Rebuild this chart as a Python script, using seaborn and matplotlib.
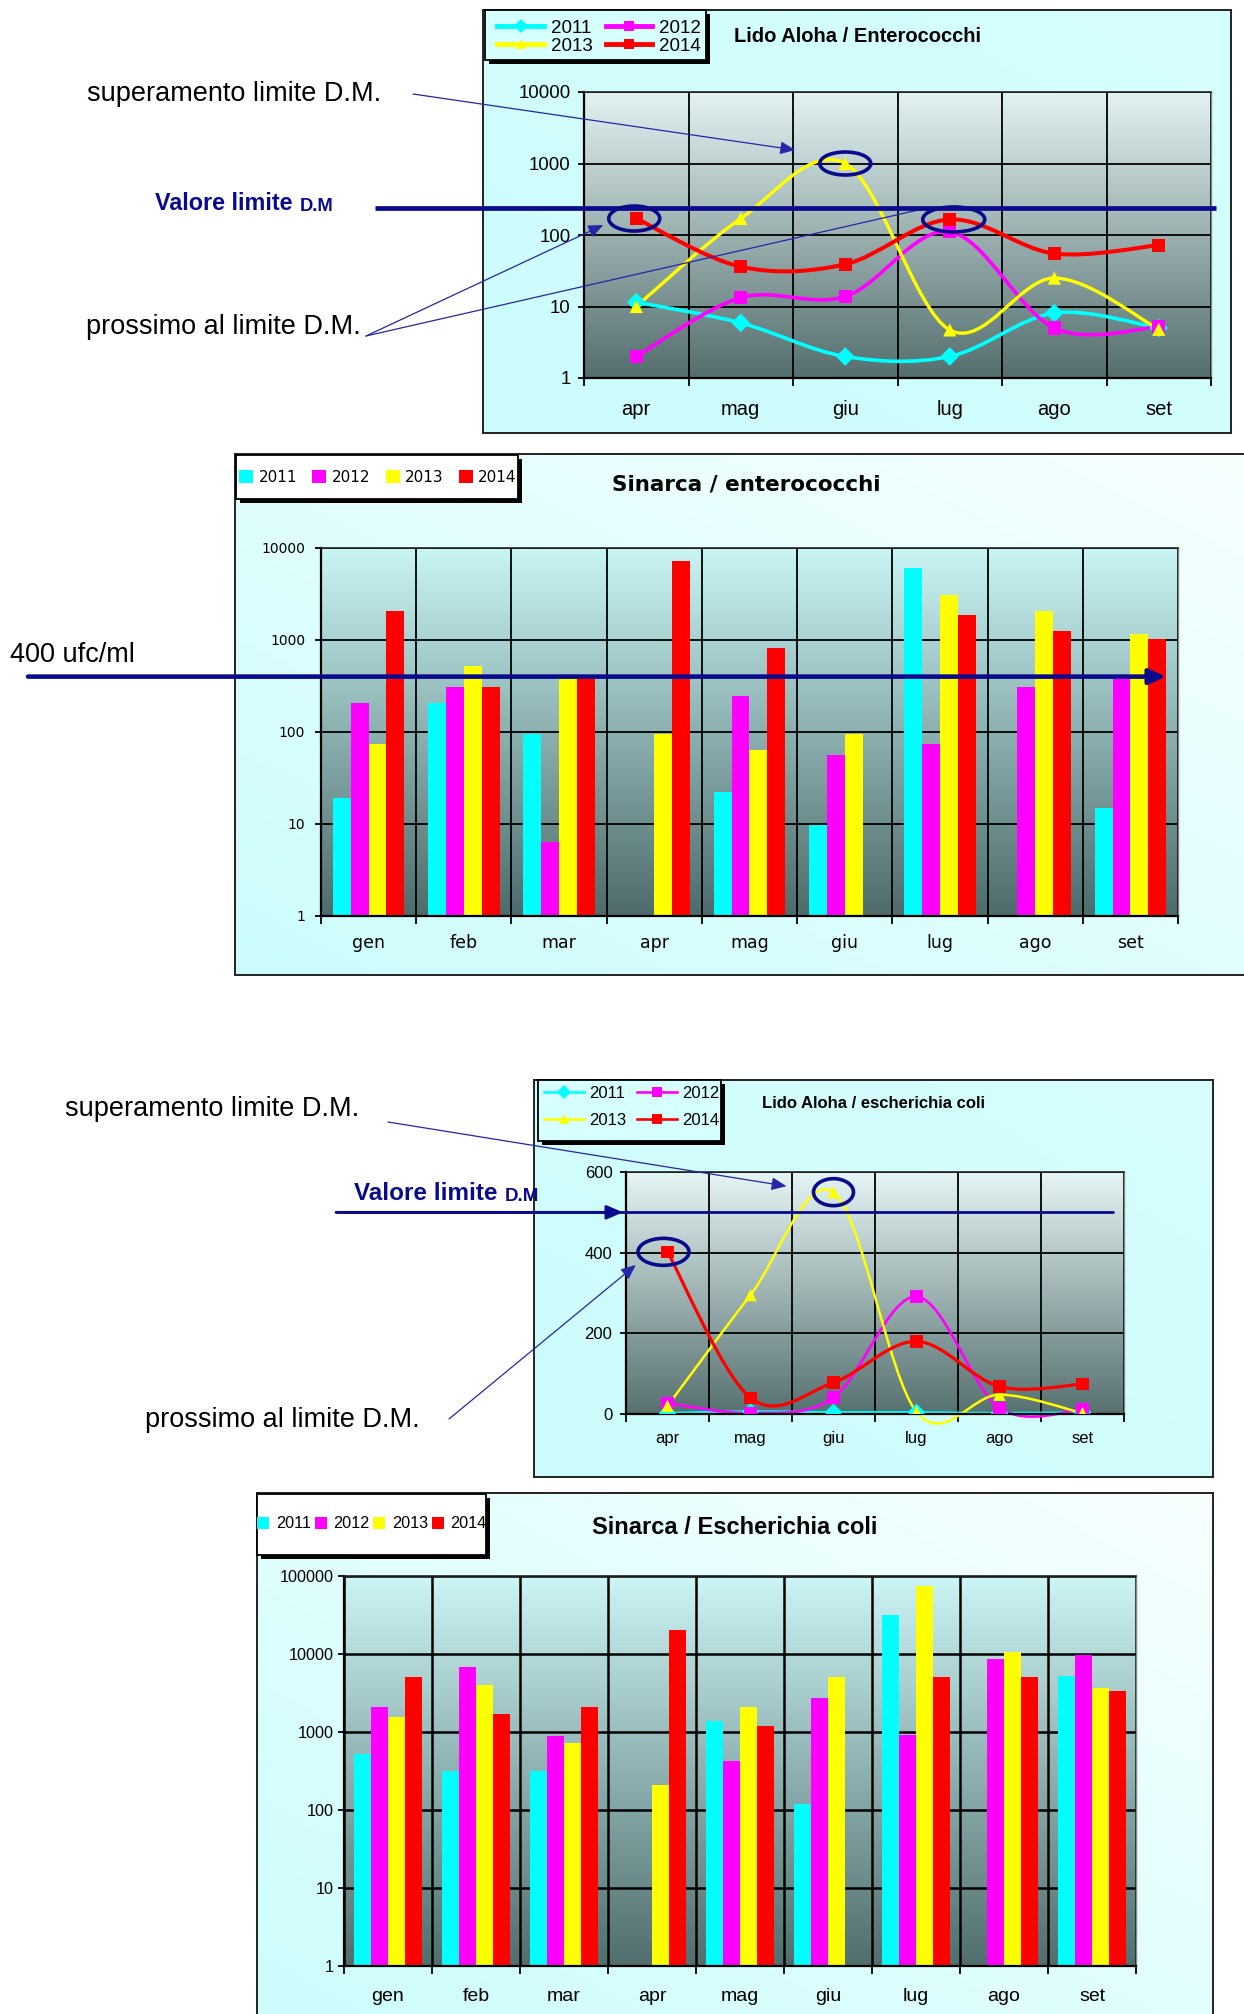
import numpy as np
import pandas as pd
import matplotlib
matplotlib.use("Agg")
import matplotlib.pyplot as plt
import matplotlib.transforms as mtransforms
from matplotlib.patches import Rectangle, Ellipse, FancyArrowPatch, PathPatch, Patch
from matplotlib.lines import Line2D
from matplotlib.path import Path
from matplotlib.ticker import NullLocator
from matplotlib import font_manager as fm
import seaborn as sns

# ---------------------------------------------------------------- data
MESI_LIDO = ["apr", "mag", "giu", "lug", "ago", "set"]
MESI_SINARCA = ["gen", "feb", "mar", "apr", "mag", "giu", "lug", "ago", "set"]
ANNI = ["2011", "2012", "2013", "2014"]

# Lido Aloha / Enterococchi
lido_ent_2011 = [11.5, 5.9, 2.0, 2.0, 8.1, 5.0]
lido_ent_2012 = [2.0, 13.3, 13.8, 111, 5.0, 5.2]
lido_ent_2013 = [10, 170, 1000, 4.7, 25, 4.8]
lido_ent_2014 = [170, 36, 39, 165, 55, 72]

# Sinarca / enterococchi
sin_ent_2011 = [19, 207, 95, np.nan, 22, 9.7, 6000, np.nan, 14.8]
sin_ent_2012 = [207, 311, 6.3, np.nan, 247, 56, 74, 311, 390]
sin_ent_2013 = [74, 517, 380, 95, 64, 95, 3100, 2070, 1150]
sin_ent_2014 = [2070, 305, 390, 7250, 823, np.nan, 1870, 1240, 1035]

# Lido Aloha / escherichia coli
lido_ec_2011 = [2, 6, 4, 4, 2, 4]
lido_ec_2012 = [27, 2.5, 41, 291, 15, 11]
lido_ec_2013 = [20, 295, 550, 5, 48, 2]
lido_ec_2014 = [402, 40, 78, 180, 68, 74]

# Sinarca / Escherichia coli
sin_ec_2011 = [526, 312, 312, np.nan, 1380, 120, 31500, np.nan, 5250]
sin_ec_2012 = [2090, 6840, 887, np.nan, 431, 2760, 903, 8570, 9830]
sin_ec_2013 = [1560, 3970, 728, 212, 2090, 5080, 74600, 10500, 3700]
sin_ec_2014 = [5080, 1720, 2090, 20600, 1180, np.nan, 5080, 5080, 3360]

LIMITE_ENT_LIDO = 240
LIMITE_ENT_SINARCA = 400
LIMITE_EC_LIDO = 500

ENT_TICKS = [1, 10, 100, 1000, 10000]
EC_SIN_TICKS = [1, 10, 100, 1000, 10000, 100000]
EC_LIDO_TICKS = [0, 200, 400, 600]

COLORI = ["#00FFFF", "#FF00FF", "#FFFF00", "#FF0000"]
MARKERS = ["D", "s", "^", "s"]
BLU = "#0a0a8c"
BLU_FRECCE = "#2626a6"

# ---------------------------------------------------------------- setup
plt.rcParams["font.family"] = ["Liberation Sans", "DejaVu Sans"]
_nomi = {f.name for f in fm.fontManager.ttflist}
NARROW = "Liberation Sans Narrow" in _nomi

W, H = 1244, 2014
fig = plt.figure(figsize=(W / 100, H / 100), dpi=100)
fig.patch.set_facecolor("white")


def box(x0, y0, x1, y1):
    return [x0 / W, 1 - y1 / H, (x1 - x0) / W, (y1 - y0) / H]


def fy(y):
    return 1 - y / H


def long_df(mesi, serie):
    rows = []
    for anno, valori in zip(ANNI, serie):
        for m, v in zip(mesi, valori):
            rows.append({"mese": m, "anno": anno, "valore": v})
    return pd.DataFrame(rows)


def panel(x0, y0, x1, y1, c_a, c_b, diagonal=False):
    a = fig.add_axes(box(x0, y0, x1, y1), zorder=0)
    n = 200
    u = np.linspace(0, 1, n)
    t = 0.5 * (u[None, :] + (1 - u[:, None]))
    if not diagonal:
        t = t * 0.4
    img = np.asarray(c_a)[None, None, :] * (1 - t[..., None]) + np.asarray(c_b)[None, None, :] * t[..., None]
    a.imshow(img, aspect="auto", extent=[0, 1, 0, 1], interpolation="bilinear")
    a.set_xlim(0, 1)
    a.set_ylim(0, 1)
    a.set_xticks([])
    a.set_yticks([])
    for s in a.spines.values():
        s.set_color("#222222")
        s.set_linewidth(1.4)
    return a


def plot_area(x0, y0, x1, y1, top, bottom):
    bg = fig.add_axes(box(x0, y0, x1, y1), zorder=0.5)
    t = np.linspace(0, 1, 256)[:, None, None]
    img = np.asarray(top)[None, None, :] * (1 - t) + np.asarray(bottom)[None, None, :] * t
    bg.imshow(img, aspect="auto", extent=[0, 1, 0, 1], interpolation="bilinear")
    bg.set_axis_off()
    ax = fig.add_axes(box(x0, y0, x1, y1), zorder=1)
    ax.set_facecolor("none")
    return ax


def legend_box(x0, y0, x1, y1, face):
    fig.add_artist(Rectangle(((x0 + 4) / W, fy(y1 + 4)), (x1 - x0) / W, (y1 - y0) / H,
                             transform=fig.transFigure, facecolor="black",
                             edgecolor="none", zorder=0.8))
    fig.add_artist(Rectangle((x0 / W, fy(y1)), (x1 - x0) / W, (y1 - y0) / H,
                             transform=fig.transFigure, facecolor=face,
                             edgecolor="black", lw=1.3, zorder=0.85))


def smooth_path(valori, log):
    """Smoothed (Catmull-Rom style) Bezier path through the points, in axis space."""
    x = np.arange(len(valori), dtype=float)
    y = np.asarray(valori, float)
    if log:
        y = np.log10(y)
    p = np.column_stack([x, y])
    n = len(p)
    verts = [p[0]]
    codes = [Path.MOVETO]
    for i in range(n - 1):
        prev = p[i - 1] if i > 0 else p[i]
        nxt = p[i + 2] if i + 2 < n else p[i + 1]
        verts += [p[i] + (p[i + 1] - prev) / 6, p[i + 1] - (nxt - p[i]) / 6, p[i + 1]]
        codes += [Path.CURVE4] * 3
    verts = np.array(verts)
    if log:
        verts[:, 1] = 10 ** verts[:, 1]
    return Path(verts, codes)


def line_panel(ax, mesi, serie, log, lws, s, clip=True):
    df = long_df(mesi, serie)
    sns.scatterplot(data=df, x="mese", y="valore", hue="anno", style="anno",
                    hue_order=ANNI, style_order=ANNI, palette=COLORI,
                    markers=MARKERS, s=s, linewidth=0, legend=False, ax=ax, zorder=4)
    for i, valori in enumerate(serie):
        ax.add_patch(PathPatch(smooth_path(valori, log), fill=False,
                               edgecolor=COLORI[i], lw=lws[i], zorder=2 + 0.1 * i,
                               capstyle="round", joinstyle="round", clip_on=clip))


def bar_panel(ax, mesi, serie, width):
    df = long_df(mesi, serie)
    sns.barplot(data=df, x="mese", y="valore", hue="anno", order=mesi,
                hue_order=ANNI, palette=COLORI, saturation=1, width=width,
                errorbar=None, linewidth=0, legend=False, ax=ax)


def style_axes(ax, mesi, yticks, ylabels, xsize, ysize, xpad, ypad,
               family=None, grid_lw=1.3):
    n = len(mesi)
    fam = {"fontfamily": family} if family else {}
    ax.set_xlim(-0.5, n - 0.5)
    ax.set_xticks(range(n))
    ax.set_xticklabels(mesi, fontsize=xsize, **fam)
    ax.set_xticks(np.arange(-0.5, n, 1), minor=True)
    ax.set_yticks(yticks)
    ax.set_yticklabels(ylabels, fontsize=ysize, **fam)
    ax.yaxis.set_minor_locator(NullLocator())
    ax.tick_params(axis="x", which="major", length=0, pad=xpad, colors="black")
    ax.tick_params(axis="x", which="minor", length=5.5, width=1.3, color="black", direction="out")
    ax.tick_params(axis="y", which="major", length=4.3, width=1.3, color="black",
                   direction="out", pad=ypad)
    ax.grid(False)
    ax.xaxis.grid(True, which="minor", color="black", lw=grid_lw)
    ax.yaxis.grid(True, which="major", color="black", lw=grid_lw)
    ax.set_axisbelow(True)
    ax.set_xlabel("")
    ax.set_ylabel("")
    for side in ("left", "bottom"):
        ax.spines[side].set_color("black")
        ax.spines[side].set_linewidth(1.6)
    ax.spines["top"].set_color("#222222")
    ax.spines["top"].set_linewidth(1.2)
    ax.spines["right"].set_color("#888888")
    ax.spines["right"].set_linewidth(1.0)


def cerchio(ax, xi, yi, w, h, dx=0.0):
    tr = mtransforms.Affine2D().translate(dx, 0) + mtransforms.ScaledTranslation(xi, yi, ax.transData)
    fig.add_artist(Ellipse((0, 0), w, h, transform=tr, fill=False,
                           edgecolor=BLU, lw=2.6, zorder=7))


def freccia(ax, start, xy, offset, head=True):
    tr = mtransforms.offset_copy(ax.transData, fig=fig, x=offset[0], y=offset[1], units="dots")
    ax.annotate("", xy=xy, xycoords=tr, xytext=(start[0], H - start[1]),
                textcoords="figure pixels", annotation_clip=False, zorder=8,
                arrowprops=dict(arrowstyle="-|>,head_length=0.7,head_width=0.3" if head else "-",
                                color=BLU_FRECCE, lw=0.9, mutation_scale=13,
                                shrinkA=0, shrinkB=0))


def valore_limite(ax, x, y_base, size_a, size_b):
    t = fig.text(x / W, fy(y_base), "Valore limite", color=BLU, fontsize=size_a,
                 fontweight="bold", ha="left", va="bottom", zorder=6)
    ax.annotate("D.M", xy=(1, 0), xycoords=t, xytext=(5, 0), textcoords="offset points",
                color=BLU, fontsize=size_b, fontweight="bold", ha="left", va="bottom",
                zorder=6)


def legend_lines(ax, cx, cy, size, lw, ms, handlelength, textpad, colspace, labelspacing, family=None):
    handles = [Line2D([0], [0], color=COLORI[i], lw=lw, marker=MARKERS[i], markersize=ms,
                      markeredgewidth=0) for i in range(4)]
    order = [0, 2, 1, 3]
    prop = {"size": size}
    if family:
        prop["family"] = family
    ax.legend([handles[i] for i in order], [ANNI[i] for i in order], ncol=2,
              loc="center", bbox_to_anchor=(cx / W, fy(cy)), bbox_transform=fig.transFigure,
              frameon=False, prop=prop, handlelength=handlelength, handletextpad=textpad,
              columnspacing=colspace, labelspacing=labelspacing, borderpad=0,
              borderaxespad=0)


def legend_bars(ax, cx, cy, size, square_px, textpad, colspace, family=None):
    fs_px = size * 100 / 72
    handles = [Patch(facecolor=c, edgecolor="none") for c in COLORI]
    prop = {"size": size}
    if family:
        prop["family"] = family
    ax.legend(handles, ANNI, ncol=4, loc="center", bbox_to_anchor=(cx / W, fy(cy)),
              bbox_transform=fig.transFigure, frameon=False, prop=prop,
              handlelength=square_px / fs_px, handleheight=square_px / fs_px,
              handletextpad=textpad, columnspacing=colspace, borderpad=0, borderaxespad=0)


TXT = 19.5

# ================================================================ 1: Lido Aloha / Enterococchi
panel(483, 10, 1231, 433, (0.80, 0.99, 0.99), (0.90, 1.0, 1.0))
ax1 = plot_area(584, 92, 1211, 378, (0.89, 0.95, 0.95), (0.33, 0.43, 0.43))
ax1.set_yscale("log")
serie1 = [lido_ent_2011, lido_ent_2012, lido_ent_2013, lido_ent_2014]
line_panel(ax1, MESI_LIDO, serie1, True, [2.6, 2.6, 2.4, 2.9], 90)
ax1.set_ylim(1, 10000)
style_axes(ax1, MESI_LIDO, ENT_TICKS, [str(v) for v in ENT_TICKS], 14.5, 13.4, 15.5, 5.5)

legend_box(485, 10, 706, 60, (0.84, 1.0, 1.0))
if NARROW:
    legend_lines(ax1, 599, 37, 17, 3.5, 7.5, 2.1, 0.3, 0.6, -0.05, "Liberation Sans Narrow")
else:
    legend_lines(ax1, 599, 37, 13.5, 3.5, 7.5, 2.5, 0.35, 0.7, 0.05)
fig.text(858 / W, fy(36), "Lido Aloha / Enterococchi", fontsize=14.5, fontweight="bold",
         ha="center", va="center")

blend1 = mtransforms.blended_transform_factory(fig.transFigure, ax1.transData)
fig.add_artist(Line2D([375 / W, 1216 / W], [LIMITE_ENT_LIDO] * 2, transform=blend1,
                      color=BLU, lw=3.4, solid_capstyle="butt", zorder=5))
cerchio(ax1, 2, lido_ent_2013[2], 51, 23)
cerchio(ax1, 0, lido_ent_2014[0], 51, 25, dx=-2)
cerchio(ax1, 3, lido_ent_2014[3], 62, 25, dx=4)

fig.text(87 / W, fy(94), "superamento limite D.M.", fontsize=TXT, ha="left", va="center")
freccia(ax1, (413, 94), (2, lido_ent_2013[2]), (-50, 13.5))
valore_limite(ax1, 155, 215, 16.8, 13.2)
fig.text(86 / W, fy(327), "prossimo al limite D.M.", fontsize=TXT, ha="left", va="center")
freccia(ax1, (366, 336), (0, lido_ent_2014[0]), (-33, -6.5))
freccia(ax1, (366, 336), (3, lido_ent_2014[3]), (-27, 10.5), head=False)

# ================================================================ 2: Sinarca / enterococchi
panel(235, 454, 1250, 975, (0.80, 0.99, 0.99), (0.97, 1.0, 1.0), diagonal=True)
ax2 = plot_area(321, 548, 1178, 916, (0.79, 0.96, 0.96), (0.31, 0.42, 0.42))
serie2 = [sin_ent_2011, sin_ent_2012, sin_ent_2013, sin_ent_2014]
bar_panel(ax2, MESI_SINARCA, serie2, 0.75)
ax2.set_yscale("log")
ax2.set_ylim(1, 10000)
style_axes(ax2, MESI_SINARCA, ENT_TICKS, [str(v) for v in ENT_TICKS], 12.5, 10, 13, 7,
           family="DejaVu Sans")

legend_box(236, 455, 518, 499, "white")
legend_bars(ax2, 378, 477, 11, 14, 0.35, 1.0, family="DejaVu Sans")
fig.text(746 / W, fy(485), "Sinarca / enterococchi", fontsize=15.5, fontweight="bold",
         family="DejaVu Sans", ha="center", va="center")

blend2 = mtransforms.blended_transform_factory(fig.transFigure, ax2.transData)
fig.add_artist(FancyArrowPatch((28 / W, LIMITE_ENT_SINARCA), (1166 / W, LIMITE_ENT_SINARCA),
                               transform=blend2, arrowstyle="-|>,head_length=0.55,head_width=0.25",
                               mutation_scale=18, color=BLU, lw=3.3, shrinkA=0, shrinkB=0,
                               zorder=5))
fig.text(10 / W, fy(655), f"{LIMITE_ENT_SINARCA} ufc/ml", fontsize=TXT, ha="left", va="center")

# ================================================================ 3: Lido Aloha / escherichia coli
panel(534, 1080, 1213, 1477, (0.80, 0.99, 0.99), (0.90, 1.0, 1.0))
ax3 = plot_area(626, 1172, 1124, 1414, (0.90, 0.96, 0.96), (0.34, 0.44, 0.44))
serie3 = [lido_ec_2011, lido_ec_2012, lido_ec_2013, lido_ec_2014]
line_panel(ax3, MESI_LIDO, serie3, False, [1.9, 1.9, 1.8, 2.3], 80, clip=False)
ax3.set_ylim(0, 600)
style_axes(ax3, MESI_LIDO, EC_LIDO_TICKS, [str(v) for v in EC_LIDO_TICKS], 12, 12, 12, 5.5)

legend_box(538, 1080, 721, 1141, (0.84, 1.0, 1.0))
legend_lines(ax3, 632, 1107, 12, 1.9, 7, 2.4, 0.3, 0.66, 0.75)
fig.text(873 / W, fy(1104), "Lido Aloha / escherichia coli", fontsize=12, fontweight="bold",
         ha="center", va="center")

blend3 = mtransforms.blended_transform_factory(fig.transFigure, ax3.transData)
fig.add_artist(Line2D([336 / W, 1114 / W], [LIMITE_EC_LIDO] * 2, transform=blend3,
                      color=BLU, lw=2.0, solid_capstyle="butt", zorder=5))
fig.add_artist(FancyArrowPatch((336 / W, LIMITE_EC_LIDO), (623 / W, LIMITE_EC_LIDO),
                               transform=blend3, arrowstyle="-|>,head_length=0.7,head_width=0.3",
                               mutation_scale=14, color=BLU, lw=2.0, shrinkA=0, shrinkB=0,
                               zorder=5))
cerchio(ax3, 2, lido_ec_2013[2], 40, 27, dx=0)
cerchio(ax3, 0, lido_ec_2014[0], 51, 27, dx=-4)

fig.text(65 / W, fy(1109), "superamento limite D.M.", fontsize=TXT, ha="left", va="center")
freccia(ax3, (388, 1122), (2, lido_ec_2013[2]), (-47, 6))
valore_limite(ax3, 354, 1205, 17.5, 13.5)
fig.text(145 / W, fy(1420), "prossimo al limite D.M.", fontsize=TXT, ha="left", va="center")
freccia(ax3, (449, 1419), (0, lido_ec_2014[0]), (-31.6, -13))

# ================================================================ 4: Sinarca / Escherichia coli
panel(257, 1493, 1213, 2030, (0.80, 0.99, 0.99), (0.97, 1.0, 1.0), diagonal=True)
ax4 = plot_area(344, 1576, 1136, 1966, (0.80, 0.96, 0.96), (0.32, 0.43, 0.43))
serie4 = [sin_ec_2011, sin_ec_2012, sin_ec_2013, sin_ec_2014]
bar_panel(ax4, MESI_SINARCA, serie4, 0.78)
ax4.set_yscale("log")
ax4.set_ylim(1, 100000)
style_axes(ax4, MESI_SINARCA, EC_SIN_TICKS, [str(v) for v in EC_SIN_TICKS], 14, 11.7, 16, 3,
           grid_lw=1.8)

legend_box(257, 1494, 486, 1555, "white")
legend_bars(ax4, 372, 1524, 11.7, 12, 0.4, 0.25)
fig.text(735 / W, fy(1528), "Sinarca / Escherichia coli", fontsize=17, fontweight="bold",
         ha="center", va="center")

fig.savefig("out.png", dpi=100)
